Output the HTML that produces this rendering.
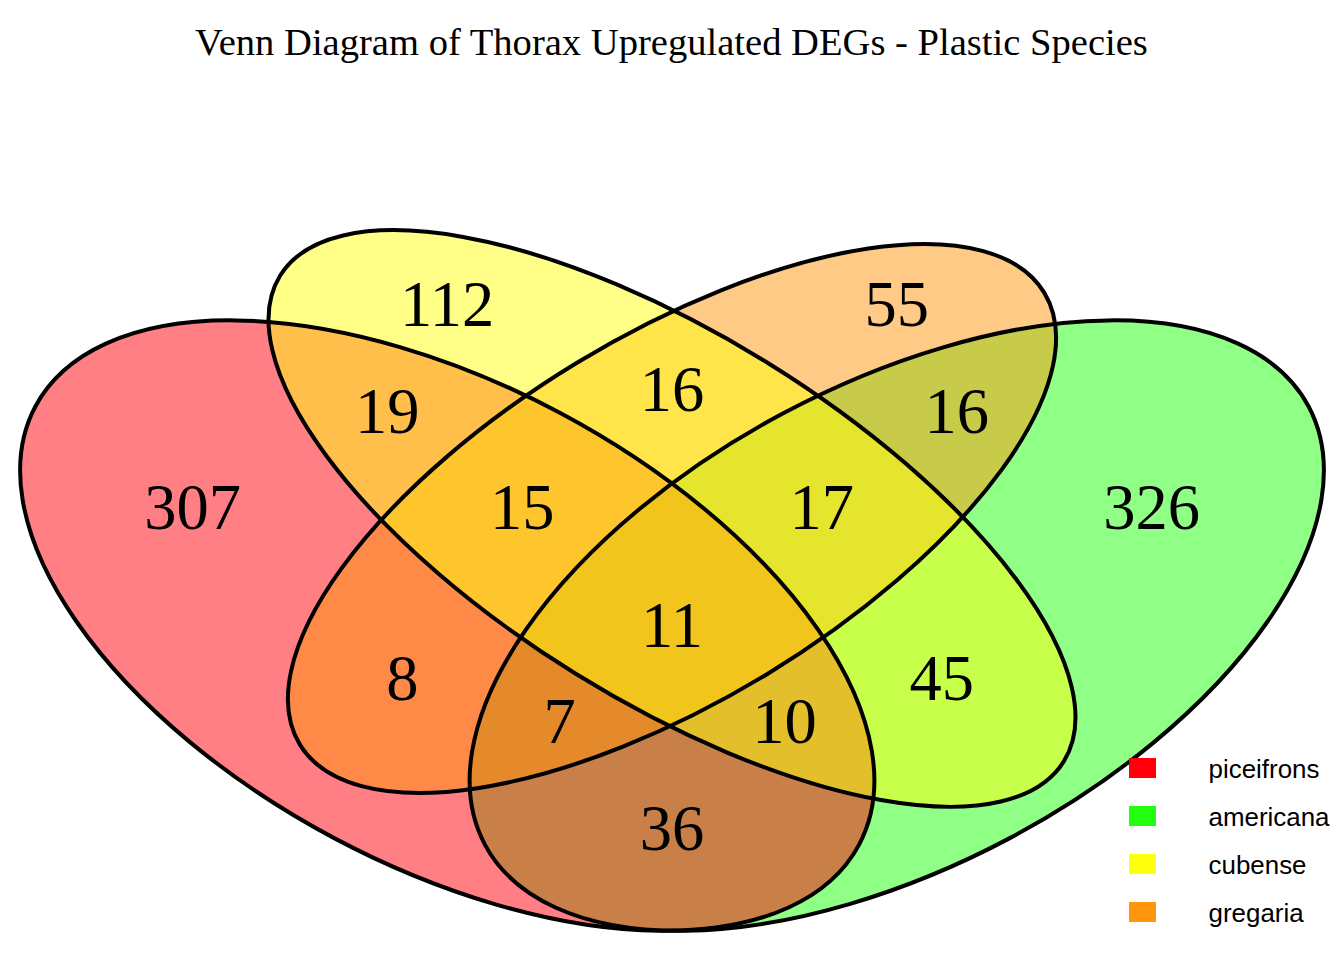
<!DOCTYPE html>
<html><head><meta charset="utf-8"><style>
html,body{margin:0;padding:0;background:#fff;width:1344px;height:960px;overflow:hidden}
svg{display:block}
text{font-family:"Liberation Serif",serif;font-size:64.5px;fill:#000}
.title{font-size:38.6px}
.lg{font-family:"Liberation Sans",sans-serif;font-size:25.9px}
</style></head><body>
<svg width="1344" height="960" viewBox="0 0 1344 960">
<rect width="1344" height="960" fill="#fff"/>
<text class="title" x="671.5" y="54.6" text-anchor="middle">Venn Diagram of Thorax Upregulated DEGs - Plastic Species</text>
<ellipse cx="896.76" cy="625.57" rx="466.50" ry="240.76" transform="rotate(151.996 896.76 625.57)" fill="#22ff0e" fill-opacity="0.5"/>
<ellipse cx="447.24" cy="625.57" rx="466.50" ry="240.76" transform="rotate(-151.996 447.24 625.57)" fill="#ff000a" fill-opacity="0.5"/>
<ellipse cx="672.00" cy="518.49" rx="435.39" ry="182.41" transform="rotate(148.752 672.00 518.49)" fill="#ff950c" fill-opacity="0.5"/>
<ellipse cx="672.00" cy="518.49" rx="461.00" ry="182.72" transform="rotate(-148.200 672.00 518.49)" fill="#ffff10" fill-opacity="0.5"/>
<ellipse cx="896.76" cy="625.57" rx="466.50" ry="240.76" transform="rotate(151.996 896.76 625.57)" fill="none" stroke="#000" stroke-width="4.0"/>
<ellipse cx="447.24" cy="625.57" rx="466.50" ry="240.76" transform="rotate(-151.996 447.24 625.57)" fill="none" stroke="#000" stroke-width="4.0"/>
<ellipse cx="672.00" cy="518.49" rx="435.39" ry="182.41" transform="rotate(148.752 672.00 518.49)" fill="none" stroke="#000" stroke-width="4.0"/>
<ellipse cx="672.00" cy="518.49" rx="461.00" ry="182.72" transform="rotate(-148.200 672.00 518.49)" fill="none" stroke="#000" stroke-width="4.0"/>
<text x="447.2" y="325.6" text-anchor="middle">112</text>
<text x="672.0" y="411.3" text-anchor="middle">16</text>
<text x="896.8" y="325.6" text-anchor="middle">55</text>
<text x="387.3" y="432.7" text-anchor="middle">19</text>
<text x="522.2" y="529.1" text-anchor="middle">15</text>
<text x="672.0" y="646.9" text-anchor="middle">11</text>
<text x="821.8" y="529.1" text-anchor="middle">17</text>
<text x="956.7" y="432.7" text-anchor="middle">16</text>
<text x="192.5" y="529.1" text-anchor="middle">307</text>
<text x="402.3" y="700.4" text-anchor="middle">8</text>
<text x="559.6" y="743.2" text-anchor="middle">7</text>
<text x="672.0" y="850.3" text-anchor="middle">36</text>
<text x="784.4" y="743.2" text-anchor="middle">10</text>
<text x="941.7" y="700.4" text-anchor="middle">45</text>
<text x="1151.5" y="529.1" text-anchor="middle">326</text>
<rect x="1129" y="758" width="27" height="20" fill="#ff000a"/><text x="1208.6" y="778" class="lg">piceifrons</text><rect x="1129" y="806" width="27" height="20" fill="#22ff0e"/><text x="1208.6" y="826" class="lg">americana</text><rect x="1129" y="854" width="27" height="20" fill="#ffff10"/><text x="1208.6" y="874" class="lg">cubense</text><rect x="1129" y="902" width="27" height="20" fill="#ff950c"/><text x="1208.6" y="922" class="lg">gregaria</text>
</svg></body></html>
